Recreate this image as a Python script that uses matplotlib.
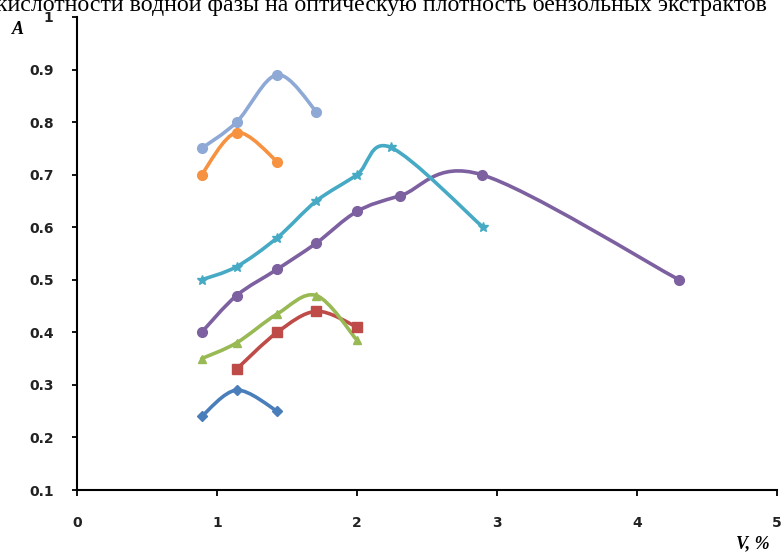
import numpy as np
import matplotlib.pyplot as plt
from matplotlib.path import Path
from matplotlib.patches import PathPatch

# данные: V, % и оптическая плотность A
x_blue = [0.89, 1.14, 1.43]
y_blue = [0.24, 0.29, 0.25]

x_red = [1.14, 1.43, 1.71, 2.0]
y_red = [0.33, 0.40, 0.44, 0.41]

x_green = [0.89, 1.14, 1.43, 1.71, 2.0]
y_green = [0.35, 0.38, 0.435, 0.47, 0.385]

x_purple = [0.89, 1.14, 1.43, 1.71, 2.0, 2.31, 2.89, 4.3]
y_purple = [0.40, 0.47, 0.52, 0.57, 0.63, 0.66, 0.70, 0.50]

x_teal = [0.89, 1.14, 1.43, 1.71, 2.0, 2.24, 2.9]
y_teal = [0.50, 0.525, 0.58, 0.65, 0.70, 0.752, 0.60]

x_orange = [0.89, 1.14, 1.43]
y_orange = [0.70, 0.78, 0.725]

x_light = [0.89, 1.14, 1.43, 1.71]
y_light = [0.75, 0.80, 0.89, 0.82]

xticks = [0, 1, 2, 3, 4, 5]
yticks = [0.1, 0.2, 0.3, 0.4, 0.5, 0.6, 0.7, 0.8, 0.9, 1]
title_text = 'кислотности водной фазы на оптическую плотность бензольных экстрактов'


def smooth_path(xs, ys):
    # сглаженная линия как в Excel (кривые Безье через точки)
    p = np.column_stack([xs, ys]).astype(float)
    n = len(p)
    verts = [p[0]]
    codes = [Path.MOVETO]
    for i in range(n - 1):
        p0 = p[i - 1] if i > 0 else p[i]
        p3 = p[i + 2] if i + 2 < n else p[i + 1]
        c1 = p[i] + (p[i + 1] - p0) / 6
        c2 = p[i + 1] - (p3 - p[i]) / 6
        verts += [c1, c2, p[i + 1]]
        codes += [Path.CURVE4] * 3
    return Path(verts, codes)


fig = plt.figure(figsize=(7.82, 5.54), dpi=100)
ax = fig.add_axes([77 / 782, 1 - 490 / 554, 700 / 782, 473 / 554])

series = [
    (x_blue, y_blue, '#4A7EBB', 'D', 5),
    (x_red, y_red, '#BE4B48', 's', 7),
    (x_green, y_green, '#98B954', '^', 6),
    (x_purple, y_purple, '#7D60A0', 'o', 7),
    (x_teal, y_teal, '#46AAC5', '*', 7),
    (x_orange, y_orange, '#F69240', 'o', 7),
    (x_light, y_light, '#8EA9D6', 'o', 7),
]
for xs, ys, c, m, ms in series:
    ax.add_patch(PathPatch(smooth_path(xs, ys), fill=False, edgecolor=c, lw=2.6, capstyle='round'))
    ax.plot(xs, ys, linestyle='none', marker=m, color=c, markersize=ms)

ax.set_xlim(0, 5)
ax.set_ylim(0.1, 1.0)
ax.set_xticks(xticks)
ax.set_yticks(yticks)
ax.set_xticklabels([str(t) for t in xticks])
ax.set_yticklabels(['0.1', '0.2', '0.3', '0.4', '0.5', '0.6', '0.7', '0.8', '0.9', '1'])
for s in ['top', 'right']:
    ax.spines[s].set_visible(False)
for s in ['left', 'bottom']:
    ax.spines[s].set_linewidth(1.5)
ax.tick_params(axis='x', direction='out', length=4.5, width=1.3, pad=14, labelsize=10)
ax.tick_params(axis='y', direction='out', length=3.8, width=1.3, pad=13, labelsize=10)
for lbl in ax.get_xticklabels() + ax.get_yticklabels():
    lbl.set_fontweight('bold')
    lbl.set_color('#222222')

fig.text(12 / 782, 1 - 30 / 554, 'A', family='Liberation Serif', style='italic',
         weight='bold', fontsize=13, ha='left', va='center')
fig.text(770 / 782, 1 - 544 / 554, 'V, %', family='Liberation Serif', style='italic',
         weight='bold', fontsize=13, ha='right', va='center')
fig.text(-4 / 782, 1 - 11 / 554, title_text, family='Liberation Serif', fontsize=17.2,
         ha='left', va='baseline')

fig.savefig('out.png', dpi=100)
